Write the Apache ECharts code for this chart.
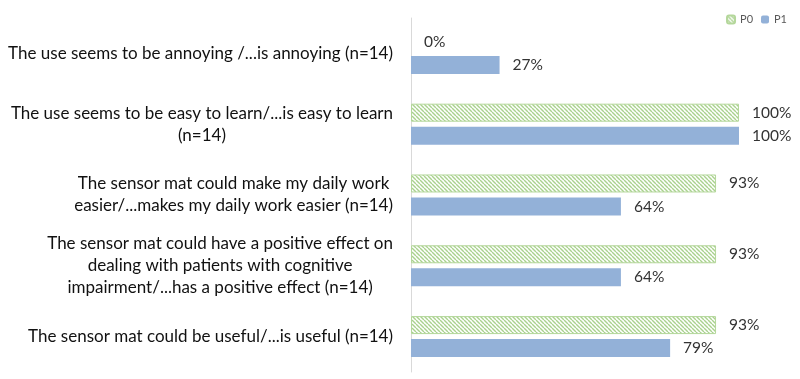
<!DOCTYPE html>
<html>
<head>
<meta charset="utf-8">
<script src="https://cdn.jsdelivr.net/npm/echarts@6/dist/echarts.min.js"></script>
<style>html,body{margin:0;padding:0;background:#fff}#c{width:800px;height:379px}</style>
</head>
<body>
<div id="c"></div>
<script>
const categories = [
  "The use seems to be annoying /...is annoying (n=14)",
  "The use seems to be easy to learn/...is easy to learn\n(n=14)",
  "The sensor mat could make my daily work\neasier/...makes my daily work easier (n=14)",
  "The sensor mat could have a positive effect on\ndealing with patients with cognitive\nimpairment/...has a positive effect (n=14)",
  "The sensor mat could be useful/...is useful (n=14)"
];
const seriesNames = ["P0", "P1"];
const p0Values = [0, 100, 93, 93, 93];
const p1Values = [27, 100, 64, 64, 79];

const FONT = "Lato";
const pc = document.createElement('canvas');
pc.width = 4; pc.height = 4;
const g = pc.getContext('2d');
g.fillStyle = '#ffffff'; g.fillRect(0, 0, 4, 4);
g.strokeStyle = '#a9d18e'; g.lineWidth = 1.4;
for (let k = -4; k <= 4; k += 4) {
  g.beginPath(); g.moveTo(k, 0); g.lineTo(k + 4, 4); g.stroke();
}

const chart = echarts.init(document.getElementById('c'), null, {renderer: 'canvas'});
const labelStyle = {
  show: true, position: 'right', distance: 13,
  formatter: p => p.value + '%',
  color: '#333333', fontSize: 15.5, fontFamily: FONT
};
chart.setOption({
  animation: false,
  legend: {
    right: 8, top: 9, itemWidth: 8, itemHeight: 8, itemGap: 8,
    textStyle: {fontSize: 11, color: '#595959', fontFamily: FONT},
    data: seriesNames
  },
  grid: {left: 411, right: 61, top: 18, bottom: 7, containLabel: false},
  xAxis: {type: 'value', min: 0, max: 100, show: false},
  yAxis: {
    type: 'category', inverse: true, data: categories,
    axisLine: {show: true, lineStyle: {color: '#d9d9d9', width: 1}},
    axisTick: {show: false},
    axisLabel: {
      margin: 18, align: 'right',
      formatter: v => v.split('\n').map(l => '{c|' + l + '}').join('\n'),
      rich: {c: {align: 'center', fontSize: 17, fontFamily: FONT, color: '#111111', lineHeight: 22}}
    }
  },
  series: [
    {
      name: seriesNames[0], type: 'bar',
      data: p0Values.map(v => v === 0 ? {value: v, itemStyle: {borderWidth: 0}} : v),
      barWidth: 18, barGap: '28%',
      itemStyle: {color: {image: pc, repeat: 'repeat'}, borderColor: '#b4d79b', borderWidth: 1},
      label: labelStyle
    },
    {
      name: seriesNames[1], type: 'bar', data: p1Values,
      barWidth: 18,
      itemStyle: {color: '#93b1d8'},
      label: labelStyle
    }
  ]
});
</script>
</body>
</html>
